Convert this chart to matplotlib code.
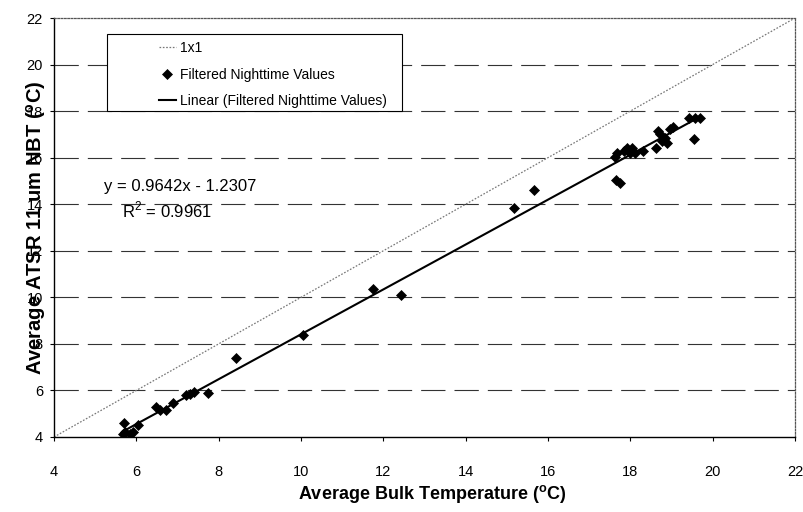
import matplotlib
matplotlib.use("Agg")
import matplotlib.pyplot as plt
from matplotlib.patches import Rectangle
from matplotlib.lines import Line2D
import numpy as np

plt.rcParams['font.family'] = ['Liberation Sans', 'DejaVu Sans']
plt.rcParams['mathtext.fontset'] = 'custom'
plt.rcParams['mathtext.rm'] = 'Liberation Sans'
plt.rcParams['mathtext.bf'] = 'Liberation Sans:bold'
plt.rcParams['lines.scale_dashes'] = False

# Data
bulk_temp = [5.68, 5.72, 5.70, 5.85, 5.92, 6.05,
             6.48, 6.58, 6.72, 6.88, 7.20, 7.30, 7.40, 7.75,
             8.42, 10.05, 11.75, 12.42, 15.18, 15.66,
             17.65, 17.75, 17.62, 17.68, 17.85, 17.92, 17.98, 18.05, 18.12, 18.30,
             18.62, 18.68, 18.73, 18.78, 18.85, 18.90, 18.96, 19.04,
             19.42, 19.55, 19.57, 19.70]
atsr_nbt = [4.15, 4.22, 4.61, 4.12, 4.20, 4.51,
            5.30, 5.18, 5.14, 5.47, 5.79, 5.85, 5.95, 5.88,
            7.40, 8.40, 10.37, 10.12, 13.84, 14.60,
            15.02, 14.90, 16.02, 16.22, 16.30, 16.40, 16.20, 16.42, 16.22, 16.30,
            16.40, 17.15, 17.02, 16.70, 16.85, 16.65, 17.25, 17.30,
            17.70, 16.80, 17.70, 17.70]
slope = 0.9642
intercept = -1.2307
r_squared = 0.9961
axis_min, axis_max = 4, 22
ticks = [4, 6, 8, 10, 12, 14, 16, 18, 20, 22]

W, H = 804, 512
fig = plt.figure(figsize=(W / 100, H / 100), dpi=100)
ax = fig.add_axes([54 / W, 1 - 437 / H, 741 / W, 419 / H])

ax.set_xlim(axis_min, axis_max)
ax.set_ylim(axis_min, axis_max)
ax.set_xticks(ticks)
ax.set_yticks(ticks)

# horizontal dashed gridlines
for t in ticks[1:-1]:
    ax.axhline(t, color='#333333', lw=0.8, ls=(0, (17.5, 6.5)), zorder=1)

# 1x1 line
ax.plot([axis_min, axis_max], [axis_min, axis_max], color='#777777', lw=0.9,
        ls=(0, (1.2, 1.2)), zorder=2)

# data
ax.plot(bulk_temp, atsr_nbt, ls='none', marker='D', ms=4.7, color='black',
        mew=0.5, zorder=4)

# trend line
xs = np.array([min(bulk_temp), max(bulk_temp)])
ax.plot(xs, slope * xs + intercept, color='black', lw=1.5, zorder=3)

for s in ['left', 'bottom']:
    ax.spines[s].set_color('black')
    ax.spines[s].set_linewidth(1.0)
for s in ['top', 'right']:
    ax.spines[s].set_color('#555555')
    ax.spines[s].set_linewidth(0.9)
    ax.spines[s].set_linestyle((0, (1.2, 1.2)))

ax.tick_params(axis='both', direction='out', length=3, width=0.8, labelsize=10.5)
ax.tick_params(axis='y', pad=5)
ax.tick_params(axis='x', pad=17)

fig.text(432 / W, 1 - 499 / H, r'Average Bulk Temperature ($\mathbf{^o}$C)',
         fontsize=13, fontweight='bold', ha='center', va='baseline')
fig.text(36 / W, 1 - 228 / H, r'Average ATSR 11 um NBT ($\mathbf{^o}$C)', fontsize=14.5,
         fontweight='bold', rotation=90, ha='center', va='center')

# equation text
fig.text(104 / W, 1 - 191 / H, 'y = 0.9642x - 1.2307', fontsize=12, ha='left',
         va='baseline')
fig.text(122 / W, 1 - 217 / H, r'R$^2$ = 0.9961', fontsize=12, ha='left',
         va='baseline')

# legend box
box = Rectangle((107 / W, 1 - 111 / H), (402 - 107) / W, (111 - 34) / H,
                transform=fig.transFigure, facecolor='white', edgecolor='black',
                lw=0.8, zorder=5)
fig.patches.append(box)

handles = [Line2D([], [], color='#777777', lw=0.9, ls=(0, (1.2, 1.2))),
           Line2D([], [], ls='none', marker='D', ms=4.7, color='black', mew=0.5),
           Line2D([], [], color='black', lw=1.5)]
labels = ['1x1', 'Filtered Nighttime Values', 'Linear (Filtered Nighttime Values)']
leg = fig.legend(handles, labels, loc='upper left',
                 bbox_to_anchor=(159 / W, 1 - 41 / H), frameon=False,
                 fontsize=10, handlelength=1.2, handletextpad=0.3,
                 labelspacing=0.9, borderpad=0, borderaxespad=0)
leg.set_zorder(6)

fig.savefig('out.png', dpi=100)
